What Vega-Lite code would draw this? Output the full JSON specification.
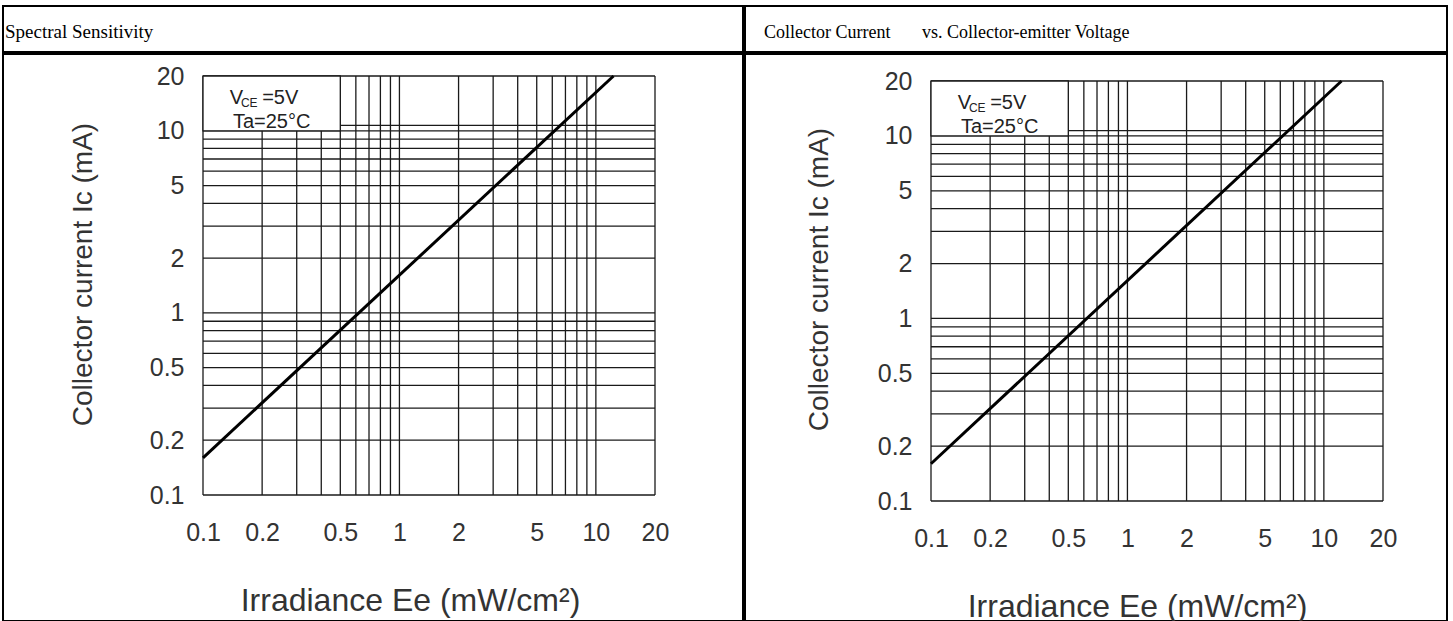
{
  "$schema": "https://vega.github.io/schema/vega-lite/v6.json",
  "background": "white",
  "padding": {"left": 2, "top": 5, "right": 0, "bottom": 0},
  "spacing": 0,
  "config": {
    "view": {"stroke": "black", "strokeWidth": 2},
    "concat": {"spacing": 0}
  },
  "hconcat": [
    {
      "vconcat": [
        {
          "width": 740,
          "height": 46,
          "data": {"values": [{"header": "Spectral Sensitivity"}]},
          "mark": {"type": "text", "align": "left", "baseline": "alphabetic", "font": "Liberation Serif", "fontSize": 19, "color": "black", "dx": 2},
          "encoding": {
            "text": {"field": "header"},
            "x": {"datum": 0, "type": "quantitative", "scale": {"domain": [0, 1]}, "axis": null},
            "y": {"datum": 0.3, "type": "quantitative", "scale": {"domain": [0, 1]}, "axis": null}
          }
        },
        {
          "width": 740,
          "height": 567,
          "layer": [
            {
              "data": {"values": [{"gx": 0.1},{"gx": 0.2},{"gx": 0.3},{"gx": 0.4},{"gx": 0.5},{"gx": 0.6},{"gx": 0.7},{"gx": 0.8},{"gx": 0.9},{"gx": 1},{"gx": 2},{"gx": 3},{"gx": 4},{"gx": 5},{"gx": 6},{"gx": 7},{"gx": 8},{"gx": 9},{"gx": 10},{"gx": 20}]},
              "mark": {"type": "rule", "color": "#1a1a1a", "strokeWidth": 1.3},
              "encoding": {
                "x": {"field": "gx", "type": "quantitative", "scale": {"type": "log", "domain": [0.1, 20], "range": [200, 652], "nice": false},
                  "axis": {"values": [0.1,0.2,0.5,1,2,5,10,20], "format": "~g", "orient": "bottom", "offset": -126, "domain": false, "ticks": false, "tickSize": 0, "grid": false, "labelPadding": 25, "labelFont": "Liberation Sans", "labelFontSize": 25, "labelColor": "#333", "labelFlush": false, "labelOverlap": false, "title": "Irradiance Ee (mW/cm²)", "titleFont": "Liberation Sans", "titleFontSize": 32, "titleFontWeight": "normal", "titleColor": "#333", "titleX": 407, "titleY": 115, "titleBaseline": "alphabetic", "titleAlign": "center"}},
                "y": {"datum": 0.1, "type": "quantitative", "scale": {"type": "log", "domain": [0.1, 20], "range": [441, 22], "nice": false},
                  "axis": {"values": [0.1,0.2,0.5,1,2,5,10,20], "format": "~g", "orient": "left", "offset": -200, "domain": false, "ticks": false, "tickSize": 0, "grid": false, "labelPadding": 19, "labelFont": "Liberation Sans", "labelFontSize": 25, "labelColor": "#333", "labelFlush": false, "labelOverlap": false, "title": "Collector current Ic (mA)", "titleFont": "Liberation Sans", "titleFontSize": 28, "titleFontWeight": "normal", "titleColor": "#333", "titleX": -120, "titleY": 220, "titleAngle": 270, "titleBaseline": "middle", "titleAlign": "center"}},
                "y2": {"datum": 20}
              }
            },
            {
              "data": {"values": [{"gy": 0.1},{"gy": 0.2},{"gy": 0.3},{"gy": 0.4},{"gy": 0.5},{"gy": 0.6},{"gy": 0.7},{"gy": 0.8},{"gy": 0.9},{"gy": 1},{"gy": 2},{"gy": 3},{"gy": 4},{"gy": 5},{"gy": 6},{"gy": 7},{"gy": 8},{"gy": 9},{"gy": 10},{"gy": 10.7},{"gy": 20}]},
              "mark": {"type": "rule", "color": "#1a1a1a", "strokeWidth": 1.3},
              "encoding": {
                "y": {"field": "gy", "type": "quantitative", "scale": {"type": "log", "domain": [0.1, 20], "range": [441, 22], "nice": false},
                  "axis": {"values": [0.1,0.2,0.5,1,2,5,10,20], "format": "~g", "orient": "left", "offset": -200, "domain": false, "ticks": false, "tickSize": 0, "grid": false, "labelPadding": 19, "labelFont": "Liberation Sans", "labelFontSize": 25, "labelColor": "#333", "labelFlush": false, "labelOverlap": false, "title": "Collector current Ic (mA)", "titleFont": "Liberation Sans", "titleFontSize": 28, "titleFontWeight": "normal", "titleColor": "#333", "titleX": -120, "titleY": 220, "titleAngle": 270, "titleBaseline": "middle", "titleAlign": "center"}},
                "x": {"datum": 0.1, "type": "quantitative", "scale": {"type": "log", "domain": [0.1, 20], "range": [200, 652], "nice": false},
                  "axis": {"values": [0.1,0.2,0.5,1,2,5,10,20], "format": "~g", "orient": "bottom", "offset": -126, "domain": false, "ticks": false, "tickSize": 0, "grid": false, "labelPadding": 25, "labelFont": "Liberation Sans", "labelFontSize": 25, "labelColor": "#333", "labelFlush": false, "labelOverlap": false, "title": "Irradiance Ee (mW/cm²)", "titleFont": "Liberation Sans", "titleFontSize": 32, "titleFontWeight": "normal", "titleColor": "#333", "titleX": 407, "titleY": 115, "titleBaseline": "alphabetic", "titleAlign": "center"}},
                "x2": {"datum": 20}
              }
            },
            {
              "data": {"values": [{"Ee": 0.1, "Ic": 0.16}, {"Ee": 12.3, "Ic": 20}]},
              "mark": {"type": "line", "color": "black", "strokeWidth": 3},
              "encoding": {
                "x": {"field": "Ee", "type": "quantitative", "scale": {"type": "log", "domain": [0.1, 20], "range": [200, 652], "nice": false},
                  "axis": {"values": [0.1,0.2,0.5,1,2,5,10,20], "format": "~g", "orient": "bottom", "offset": -126, "domain": false, "ticks": false, "tickSize": 0, "grid": false, "labelPadding": 25, "labelFont": "Liberation Sans", "labelFontSize": 25, "labelColor": "#333", "labelFlush": false, "labelOverlap": false, "title": "Irradiance Ee (mW/cm²)", "titleFont": "Liberation Sans", "titleFontSize": 32, "titleFontWeight": "normal", "titleColor": "#333", "titleX": 407, "titleY": 115, "titleBaseline": "alphabetic", "titleAlign": "center"}},
                "y": {"field": "Ic", "type": "quantitative", "scale": {"type": "log", "domain": [0.1, 20], "range": [441, 22], "nice": false},
                  "axis": {"values": [0.1,0.2,0.5,1,2,5,10,20], "format": "~g", "orient": "left", "offset": -200, "domain": false, "ticks": false, "tickSize": 0, "grid": false, "labelPadding": 19, "labelFont": "Liberation Sans", "labelFontSize": 25, "labelColor": "#333", "labelFlush": false, "labelOverlap": false, "title": "Collector current Ic (mA)", "titleFont": "Liberation Sans", "titleFontSize": 28, "titleFontWeight": "normal", "titleColor": "#333", "titleX": -120, "titleY": 220, "titleAngle": 270, "titleBaseline": "middle", "titleAlign": "center"}}
              }
            },
            {
              "data": {"values": [{"condition": "VCE=5V, Ta=25°C"}]},
              "mark": {"type": "rect", "fill": "white", "stroke": "#1a1a1a", "strokeWidth": 1.3},
              "encoding": {
                "x": {"datum": 0.1, "type": "quantitative", "scale": {"type": "log", "domain": [0.1, 20], "range": [200, 652], "nice": false},
                  "axis": {"values": [0.1,0.2,0.5,1,2,5,10,20], "format": "~g", "orient": "bottom", "offset": -126, "domain": false, "ticks": false, "tickSize": 0, "grid": false, "labelPadding": 25, "labelFont": "Liberation Sans", "labelFontSize": 25, "labelColor": "#333", "labelFlush": false, "labelOverlap": false, "title": "Irradiance Ee (mW/cm²)", "titleFont": "Liberation Sans", "titleFontSize": 32, "titleFontWeight": "normal", "titleColor": "#333", "titleX": 407, "titleY": 115, "titleBaseline": "alphabetic", "titleAlign": "center"}},
                "x2": {"datum": 0.5},
                "y": {"datum": 10, "type": "quantitative", "scale": {"type": "log", "domain": [0.1, 20], "range": [441, 22], "nice": false},
                  "axis": {"values": [0.1,0.2,0.5,1,2,5,10,20], "format": "~g", "orient": "left", "offset": -200, "domain": false, "ticks": false, "tickSize": 0, "grid": false, "labelPadding": 19, "labelFont": "Liberation Sans", "labelFontSize": 25, "labelColor": "#333", "labelFlush": false, "labelOverlap": false, "title": "Collector current Ic (mA)", "titleFont": "Liberation Sans", "titleFontSize": 28, "titleFontWeight": "normal", "titleColor": "#333", "titleX": -120, "titleY": 220, "titleAngle": 270, "titleBaseline": "middle", "titleAlign": "center"}},
                "y2": {"datum": 20}
              }
            },
            {
              "data": {"values": [
                {"part": "V", "Ee": 0.137, "Ic": 14.0},
                {"part": "=5V", "Ee": 0.2, "Ic": 14.0},
                {"part": "Ta=25°C", "Ee": 0.142, "Ic": 10.36}
              ]},
              "mark": {"type": "text", "align": "left", "baseline": "alphabetic", "font": "Liberation Sans", "fontSize": 20, "color": "#222"},
              "encoding": {
                "text": {"field": "part"},
                "x": {"field": "Ee", "type": "quantitative", "scale": {"type": "log", "domain": [0.1, 20], "range": [200, 652], "nice": false},
                  "axis": {"values": [0.1,0.2,0.5,1,2,5,10,20], "format": "~g", "orient": "bottom", "offset": -126, "domain": false, "ticks": false, "tickSize": 0, "grid": false, "labelPadding": 25, "labelFont": "Liberation Sans", "labelFontSize": 25, "labelColor": "#333", "labelFlush": false, "labelOverlap": false, "title": "Irradiance Ee (mW/cm²)", "titleFont": "Liberation Sans", "titleFontSize": 32, "titleFontWeight": "normal", "titleColor": "#333", "titleX": 407, "titleY": 115, "titleBaseline": "alphabetic", "titleAlign": "center"}},
                "y": {"field": "Ic", "type": "quantitative", "scale": {"type": "log", "domain": [0.1, 20], "range": [441, 22], "nice": false},
                  "axis": {"values": [0.1,0.2,0.5,1,2,5,10,20], "format": "~g", "orient": "left", "offset": -200, "domain": false, "ticks": false, "tickSize": 0, "grid": false, "labelPadding": 19, "labelFont": "Liberation Sans", "labelFontSize": 25, "labelColor": "#333", "labelFlush": false, "labelOverlap": false, "title": "Collector current Ic (mA)", "titleFont": "Liberation Sans", "titleFontSize": 28, "titleFontWeight": "normal", "titleColor": "#333", "titleX": -120, "titleY": 220, "titleAngle": 270, "titleBaseline": "middle", "titleAlign": "center"}}
              }
            },
            {
              "data": {"values": [{"part": "CE", "Ee": 0.156, "Ic": 13.5}]},
              "mark": {"type": "text", "align": "left", "baseline": "alphabetic", "font": "Liberation Sans", "fontSize": 12, "color": "#222"},
              "encoding": {
                "text": {"field": "part"},
                "x": {"field": "Ee", "type": "quantitative", "scale": {"type": "log", "domain": [0.1, 20], "range": [200, 652], "nice": false},
                  "axis": {"values": [0.1,0.2,0.5,1,2,5,10,20], "format": "~g", "orient": "bottom", "offset": -126, "domain": false, "ticks": false, "tickSize": 0, "grid": false, "labelPadding": 25, "labelFont": "Liberation Sans", "labelFontSize": 25, "labelColor": "#333", "labelFlush": false, "labelOverlap": false, "title": "Irradiance Ee (mW/cm²)", "titleFont": "Liberation Sans", "titleFontSize": 32, "titleFontWeight": "normal", "titleColor": "#333", "titleX": 407, "titleY": 115, "titleBaseline": "alphabetic", "titleAlign": "center"}},
                "y": {"field": "Ic", "type": "quantitative", "scale": {"type": "log", "domain": [0.1, 20], "range": [441, 22], "nice": false},
                  "axis": {"values": [0.1,0.2,0.5,1,2,5,10,20], "format": "~g", "orient": "left", "offset": -200, "domain": false, "ticks": false, "tickSize": 0, "grid": false, "labelPadding": 19, "labelFont": "Liberation Sans", "labelFontSize": 25, "labelColor": "#333", "labelFlush": false, "labelOverlap": false, "title": "Collector current Ic (mA)", "titleFont": "Liberation Sans", "titleFontSize": 28, "titleFontWeight": "normal", "titleColor": "#333", "titleX": -120, "titleY": 220, "titleAngle": 270, "titleBaseline": "middle", "titleAlign": "center"}}
              }
            }
          ]
        }
      ]
    },
    {
      "vconcat": [
        {
          "width": 702,
          "height": 46,
          "data": {"values": [{"header": "Collector Current\u00a0\u00a0\u00a0\u00a0\u00a0\u00a0\u00a0vs. Collector-emitter Voltage"}]},
          "mark": {"type": "text", "align": "left", "baseline": "alphabetic", "font": "Liberation Serif", "fontSize": 18, "color": "black", "dx": 19},
          "encoding": {
            "text": {"field": "header"},
            "x": {"datum": 0, "type": "quantitative", "scale": {"domain": [0, 1]}, "axis": null},
            "y": {"datum": 0.3, "type": "quantitative", "scale": {"domain": [0, 1]}, "axis": null}
          }
        },
        {
          "width": 702,
          "height": 567,
          "layer": [
            {
              "data": {"values": [{"gx": 0.1},{"gx": 0.2},{"gx": 0.3},{"gx": 0.4},{"gx": 0.5},{"gx": 0.6},{"gx": 0.7},{"gx": 0.8},{"gx": 0.9},{"gx": 1},{"gx": 2},{"gx": 3},{"gx": 4},{"gx": 5},{"gx": 6},{"gx": 7},{"gx": 8},{"gx": 9},{"gx": 10},{"gx": 20}]},
              "mark": {"type": "rule", "color": "#1a1a1a", "strokeWidth": 1.3},
              "encoding": {
                "x": {"field": "gx", "type": "quantitative", "scale": {"type": "log", "domain": [0.1, 20], "range": [186, 638], "nice": false},
                  "axis": {"values": [0.1,0.2,0.5,1,2,5,10,20], "format": "~g", "orient": "bottom", "offset": -120, "domain": false, "ticks": false, "tickSize": 0, "grid": false, "labelPadding": 25, "labelFont": "Liberation Sans", "labelFontSize": 25, "labelColor": "#333", "labelFlush": false, "labelOverlap": false, "title": "Irradiance Ee (mW/cm²)", "titleFont": "Liberation Sans", "titleFontSize": 32, "titleFontWeight": "normal", "titleColor": "#333", "titleX": 392, "titleY": 115, "titleBaseline": "alphabetic", "titleAlign": "center"}},
                "y": {"datum": 0.1, "type": "quantitative", "scale": {"type": "log", "domain": [0.1, 20], "range": [447, 27], "nice": false},
                  "axis": {"values": [0.1,0.2,0.5,1,2,5,10,20], "format": "~g", "orient": "left", "offset": -186, "domain": false, "ticks": false, "tickSize": 0, "grid": false, "labelPadding": 19, "labelFont": "Liberation Sans", "labelFontSize": 25, "labelColor": "#333", "labelFlush": false, "labelOverlap": false, "title": "Collector current Ic (mA)", "titleFont": "Liberation Sans", "titleFontSize": 28, "titleFontWeight": "normal", "titleColor": "#333", "titleX": -112, "titleY": 225, "titleAngle": 270, "titleBaseline": "middle", "titleAlign": "center"}},
                "y2": {"datum": 20}
              }
            },
            {
              "data": {"values": [{"gy": 0.1},{"gy": 0.2},{"gy": 0.3},{"gy": 0.4},{"gy": 0.5},{"gy": 0.6},{"gy": 0.7},{"gy": 0.8},{"gy": 0.9},{"gy": 1},{"gy": 2},{"gy": 3},{"gy": 4},{"gy": 5},{"gy": 6},{"gy": 7},{"gy": 8},{"gy": 9},{"gy": 10},{"gy": 10.7},{"gy": 20}]},
              "mark": {"type": "rule", "color": "#1a1a1a", "strokeWidth": 1.3},
              "encoding": {
                "y": {"field": "gy", "type": "quantitative", "scale": {"type": "log", "domain": [0.1, 20], "range": [447, 27], "nice": false},
                  "axis": {"values": [0.1,0.2,0.5,1,2,5,10,20], "format": "~g", "orient": "left", "offset": -186, "domain": false, "ticks": false, "tickSize": 0, "grid": false, "labelPadding": 19, "labelFont": "Liberation Sans", "labelFontSize": 25, "labelColor": "#333", "labelFlush": false, "labelOverlap": false, "title": "Collector current Ic (mA)", "titleFont": "Liberation Sans", "titleFontSize": 28, "titleFontWeight": "normal", "titleColor": "#333", "titleX": -112, "titleY": 225, "titleAngle": 270, "titleBaseline": "middle", "titleAlign": "center"}},
                "x": {"datum": 0.1, "type": "quantitative", "scale": {"type": "log", "domain": [0.1, 20], "range": [186, 638], "nice": false},
                  "axis": {"values": [0.1,0.2,0.5,1,2,5,10,20], "format": "~g", "orient": "bottom", "offset": -120, "domain": false, "ticks": false, "tickSize": 0, "grid": false, "labelPadding": 25, "labelFont": "Liberation Sans", "labelFontSize": 25, "labelColor": "#333", "labelFlush": false, "labelOverlap": false, "title": "Irradiance Ee (mW/cm²)", "titleFont": "Liberation Sans", "titleFontSize": 32, "titleFontWeight": "normal", "titleColor": "#333", "titleX": 392, "titleY": 115, "titleBaseline": "alphabetic", "titleAlign": "center"}},
                "x2": {"datum": 20}
              }
            },
            {
              "data": {"values": [{"Ee": 0.1, "Ic": 0.16}, {"Ee": 12.3, "Ic": 20}]},
              "mark": {"type": "line", "color": "black", "strokeWidth": 3},
              "encoding": {
                "x": {"field": "Ee", "type": "quantitative", "scale": {"type": "log", "domain": [0.1, 20], "range": [186, 638], "nice": false},
                  "axis": {"values": [0.1,0.2,0.5,1,2,5,10,20], "format": "~g", "orient": "bottom", "offset": -120, "domain": false, "ticks": false, "tickSize": 0, "grid": false, "labelPadding": 25, "labelFont": "Liberation Sans", "labelFontSize": 25, "labelColor": "#333", "labelFlush": false, "labelOverlap": false, "title": "Irradiance Ee (mW/cm²)", "titleFont": "Liberation Sans", "titleFontSize": 32, "titleFontWeight": "normal", "titleColor": "#333", "titleX": 392, "titleY": 115, "titleBaseline": "alphabetic", "titleAlign": "center"}},
                "y": {"field": "Ic", "type": "quantitative", "scale": {"type": "log", "domain": [0.1, 20], "range": [447, 27], "nice": false},
                  "axis": {"values": [0.1,0.2,0.5,1,2,5,10,20], "format": "~g", "orient": "left", "offset": -186, "domain": false, "ticks": false, "tickSize": 0, "grid": false, "labelPadding": 19, "labelFont": "Liberation Sans", "labelFontSize": 25, "labelColor": "#333", "labelFlush": false, "labelOverlap": false, "title": "Collector current Ic (mA)", "titleFont": "Liberation Sans", "titleFontSize": 28, "titleFontWeight": "normal", "titleColor": "#333", "titleX": -112, "titleY": 225, "titleAngle": 270, "titleBaseline": "middle", "titleAlign": "center"}}
              }
            },
            {
              "data": {"values": [{"condition": "VCE=5V, Ta=25°C"}]},
              "mark": {"type": "rect", "fill": "white", "stroke": "#1a1a1a", "strokeWidth": 1.3},
              "encoding": {
                "x": {"datum": 0.1, "type": "quantitative", "scale": {"type": "log", "domain": [0.1, 20], "range": [186, 638], "nice": false},
                  "axis": {"values": [0.1,0.2,0.5,1,2,5,10,20], "format": "~g", "orient": "bottom", "offset": -120, "domain": false, "ticks": false, "tickSize": 0, "grid": false, "labelPadding": 25, "labelFont": "Liberation Sans", "labelFontSize": 25, "labelColor": "#333", "labelFlush": false, "labelOverlap": false, "title": "Irradiance Ee (mW/cm²)", "titleFont": "Liberation Sans", "titleFontSize": 32, "titleFontWeight": "normal", "titleColor": "#333", "titleX": 392, "titleY": 115, "titleBaseline": "alphabetic", "titleAlign": "center"}},
                "x2": {"datum": 0.5},
                "y": {"datum": 10, "type": "quantitative", "scale": {"type": "log", "domain": [0.1, 20], "range": [447, 27], "nice": false},
                  "axis": {"values": [0.1,0.2,0.5,1,2,5,10,20], "format": "~g", "orient": "left", "offset": -186, "domain": false, "ticks": false, "tickSize": 0, "grid": false, "labelPadding": 19, "labelFont": "Liberation Sans", "labelFontSize": 25, "labelColor": "#333", "labelFlush": false, "labelOverlap": false, "title": "Collector current Ic (mA)", "titleFont": "Liberation Sans", "titleFontSize": 28, "titleFontWeight": "normal", "titleColor": "#333", "titleX": -112, "titleY": 225, "titleAngle": 270, "titleBaseline": "middle", "titleAlign": "center"}},
                "y2": {"datum": 20}
              }
            },
            {
              "data": {"values": [
                {"part": "V", "Ee": 0.137, "Ic": 14.0},
                {"part": "=5V", "Ee": 0.2, "Ic": 14.0},
                {"part": "Ta=25°C", "Ee": 0.142, "Ic": 10.36}
              ]},
              "mark": {"type": "text", "align": "left", "baseline": "alphabetic", "font": "Liberation Sans", "fontSize": 20, "color": "#222"},
              "encoding": {
                "text": {"field": "part"},
                "x": {"field": "Ee", "type": "quantitative", "scale": {"type": "log", "domain": [0.1, 20], "range": [186, 638], "nice": false},
                  "axis": {"values": [0.1,0.2,0.5,1,2,5,10,20], "format": "~g", "orient": "bottom", "offset": -120, "domain": false, "ticks": false, "tickSize": 0, "grid": false, "labelPadding": 25, "labelFont": "Liberation Sans", "labelFontSize": 25, "labelColor": "#333", "labelFlush": false, "labelOverlap": false, "title": "Irradiance Ee (mW/cm²)", "titleFont": "Liberation Sans", "titleFontSize": 32, "titleFontWeight": "normal", "titleColor": "#333", "titleX": 392, "titleY": 115, "titleBaseline": "alphabetic", "titleAlign": "center"}},
                "y": {"field": "Ic", "type": "quantitative", "scale": {"type": "log", "domain": [0.1, 20], "range": [447, 27], "nice": false},
                  "axis": {"values": [0.1,0.2,0.5,1,2,5,10,20], "format": "~g", "orient": "left", "offset": -186, "domain": false, "ticks": false, "tickSize": 0, "grid": false, "labelPadding": 19, "labelFont": "Liberation Sans", "labelFontSize": 25, "labelColor": "#333", "labelFlush": false, "labelOverlap": false, "title": "Collector current Ic (mA)", "titleFont": "Liberation Sans", "titleFontSize": 28, "titleFontWeight": "normal", "titleColor": "#333", "titleX": -112, "titleY": 225, "titleAngle": 270, "titleBaseline": "middle", "titleAlign": "center"}}
              }
            },
            {
              "data": {"values": [{"part": "CE", "Ee": 0.156, "Ic": 13.5}]},
              "mark": {"type": "text", "align": "left", "baseline": "alphabetic", "font": "Liberation Sans", "fontSize": 12, "color": "#222"},
              "encoding": {
                "text": {"field": "part"},
                "x": {"field": "Ee", "type": "quantitative", "scale": {"type": "log", "domain": [0.1, 20], "range": [186, 638], "nice": false},
                  "axis": {"values": [0.1,0.2,0.5,1,2,5,10,20], "format": "~g", "orient": "bottom", "offset": -120, "domain": false, "ticks": false, "tickSize": 0, "grid": false, "labelPadding": 25, "labelFont": "Liberation Sans", "labelFontSize": 25, "labelColor": "#333", "labelFlush": false, "labelOverlap": false, "title": "Irradiance Ee (mW/cm²)", "titleFont": "Liberation Sans", "titleFontSize": 32, "titleFontWeight": "normal", "titleColor": "#333", "titleX": 392, "titleY": 115, "titleBaseline": "alphabetic", "titleAlign": "center"}},
                "y": {"field": "Ic", "type": "quantitative", "scale": {"type": "log", "domain": [0.1, 20], "range": [447, 27], "nice": false},
                  "axis": {"values": [0.1,0.2,0.5,1,2,5,10,20], "format": "~g", "orient": "left", "offset": -186, "domain": false, "ticks": false, "tickSize": 0, "grid": false, "labelPadding": 19, "labelFont": "Liberation Sans", "labelFontSize": 25, "labelColor": "#333", "labelFlush": false, "labelOverlap": false, "title": "Collector current Ic (mA)", "titleFont": "Liberation Sans", "titleFontSize": 28, "titleFontWeight": "normal", "titleColor": "#333", "titleX": -112, "titleY": 225, "titleAngle": 270, "titleBaseline": "middle", "titleAlign": "center"}}
              }
            }
          ]
        }
      ]
    }
  ]
}
